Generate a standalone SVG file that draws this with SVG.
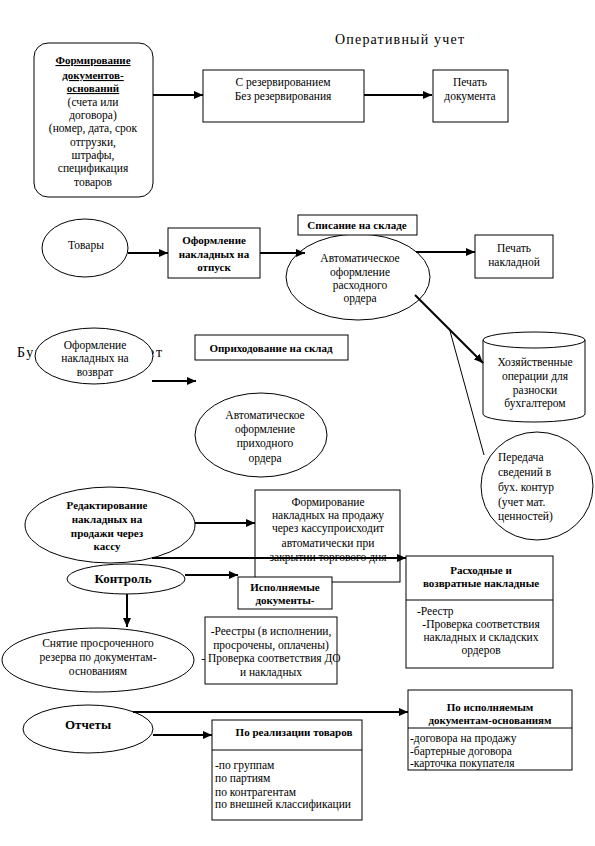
<svg xmlns="http://www.w3.org/2000/svg" width="595" height="846" viewBox="0 0 595 846" font-family="'Liberation Serif', 'DejaVu Serif', serif">
<defs>
<marker id="ah" markerUnits="userSpaceOnUse" markerWidth="10" markerHeight="8" refX="9" refY="4" orient="auto"><path d="M0,0 L9,4 L0,8 z" fill="#000"/></marker>
<style>
text{font-family:"Liberation Serif","DejaVu Serif",serif;font-size:11.5px;fill:#000}
.c{text-anchor:middle}
.b{font-weight:bold;font-size:11px}
.u{text-decoration:underline}
.big{font-size:14px}
.k{font-size:13px;font-weight:bold}
.box{fill:#fff;stroke:#000;stroke-width:1}
.ln{fill:none;stroke:#000;stroke-width:1}
.arr{fill:none;stroke:#000;stroke-width:2;marker-end:url(#ah)}
</style>
</defs>
<rect width="595" height="846" fill="#fff"/>

<text id="title-op" class="big" x="335" y="44" textLength="129">Оперативный учет</text>
<text id="title-bu" class="big" x="17" y="357" textLength="145">Бухгалтерский учет</text>

<g id="n-docs">
<rect class="box" x="34" y="43" width="119" height="154" rx="14"/>
<text class="c b u" x="93" y="64">Формирование</text>
<text class="c b u" x="93" y="79">документов-</text>
<text class="c b u" x="93" y="92">оснований</text>
<text class="c" x="93" y="106">(счета или</text>
<text class="c" x="93" y="119">договора)</text>
<text class="c" x="93" y="132">(номер, дата, срок</text>
<text class="c" x="93" y="146">отгрузки,</text>
<text class="c" x="93" y="159">штрафы,</text>
<text class="c" x="93" y="172">спецификация</text>
<text class="c" x="93" y="186">товаров</text>
</g>
<g id="n-reserve">
<rect class="box" x="203" y="70" width="161" height="52"/>
<text class="c" x="283" y="86">С резервированием</text>
<text class="c" x="283" y="100">Без резервирования</text>
</g>
<g id="n-printdoc">
<rect class="box" x="433" y="70" width="75" height="52"/>
<text class="c" x="470" y="86">Печать</text>
<text class="c" x="470" y="100">документа</text>
</g>

<g id="n-goods">
<ellipse class="box" cx="85" cy="248" rx="43" ry="29"/>
<text class="c" x="86" y="249">Товары</text>
</g>
<g id="n-issue">
<rect class="box" x="168" y="228" width="92" height="50"/>
<text class="c b" x="214" y="244">Оформление</text>
<text class="c b" x="214" y="258">накладных на</text>
<text class="c b" x="214" y="271">отпуск</text>
</g>
<g id="n-outorder">
<ellipse class="box" cx="358" cy="277" rx="72" ry="43"/>
<text class="c" x="360" y="262">Автоматическое</text>
<text class="c" x="360" y="276">оформление</text>
<text class="c" x="360" y="289">расходного</text>
<text class="c" x="360" y="302">ордера</text>
</g>
<g id="n-writeoff">
<rect class="box" x="298" y="215" width="119" height="20"/>
<text class="c b" x="357" y="229">Списание на складе</text>
</g>
<g id="n-printinv">
<rect class="box" x="475" y="235" width="78" height="43"/>
<text class="c" x="514" y="252">Печать</text>
<text class="c" x="514" y="266">накладной</text>
</g>
<g id="n-ops">
<path class="box" d="M483,340 A51,8 0 0,1 585,340 L585,414 A51,8 0 0,1 483,414 Z"/>
<path class="ln" d="M483,340 A51,8 0 0,0 585,340"/>
<text class="c" x="535" y="366">Хозяйственные</text>
<text class="c" x="535" y="380">операции для</text>
<text class="c" x="535" y="394">разноски</text>
<text class="c" x="535" y="407">бухгалтером</text>
</g>
<g id="n-transfer">
<ellipse class="box" cx="537" cy="486" rx="56" ry="54"/>
<text x="498" y="461">Передача</text>
<text x="498" y="476">сведений в</text>
<text x="498" y="491">бух. контур</text>
<text x="498" y="506">(учет мат.</text>
<text x="498" y="520">ценностей)</text>
</g>

<g id="n-return">
<ellipse class="box" cx="94" cy="356" rx="59" ry="28"/>
<text class="c" x="95" y="349">Оформление</text>
<text class="c" x="95" y="362">накладных на</text>
<text class="c" x="95" y="376">возврат</text>
</g>
<g id="n-receive">
<rect class="box" x="195" y="335" width="153" height="25"/>
<text class="c b" x="271" y="352">Оприходование на склад</text>
</g>
<g id="n-inorder">
<ellipse class="box" cx="261" cy="435" rx="66" ry="42"/>
<text class="c" x="265" y="419">Автоматическое</text>
<text class="c" x="265" y="433">оформление</text>
<text class="c" x="265" y="447">приходного</text>
<text class="c" x="265" y="462">ордера</text>
</g>

<g id="n-edit">
<ellipse class="box" cx="110" cy="525" rx="85" ry="38"/>
<text class="c b" x="107" y="509">Редактирование</text>
<text class="c b" x="107" y="523">накладных на</text>
<text class="c b" x="107" y="537">продажи через</text>
<text class="c b" x="107" y="550">кассу</text>
</g>
<g id="n-cash">
<rect class="box" x="255" y="490" width="145" height="92"/>
<text class="c" x="328" y="506">Формирование</text>
<text class="c" x="328" y="519">накладных на продажу</text>
<text class="c" x="328" y="532">через кассупроисходит</text>
<text class="c" x="328" y="547">автоматически при</text>
<text class="c" x="328" y="561">закрытии торгового дня</text>
</g>
<g id="n-control">
<ellipse class="box" cx="126" cy="579" rx="59" ry="15"/>
<text class="c k" x="123" y="583">Контроль</text>
</g>
<g id="n-execdocs">
<rect class="box" x="238" y="577" width="94" height="32"/>
<text class="c b" x="285" y="591">Исполняемые</text>
<text class="c b" x="285" y="604">документы-</text>
</g>
<g id="n-registers">
<rect class="box" x="205" y="617" width="132" height="67"/>
<text class="c" x="271" y="635">-Реестры (в исполнении,</text>
<text class="c" x="271" y="649">просрочены, оплачены)</text>
<text class="c" x="271" y="662">- Проверка соответствия ДО</text>
<text class="c" x="271" y="676">и накладных</text>
</g>
<g id="n-expired">
<ellipse class="box" cx="98" cy="660" rx="96" ry="32"/>
<text class="c" x="98" y="647">Снятие просроченного</text>
<text class="c" x="98" y="661">резерва по документам-</text>
<text class="c" x="98" y="675">основаниям</text>
</g>
<g id="n-invoices">
<rect class="box" x="406" y="556" width="147" height="112"/>
<line class="ln" x1="406" y1="600" x2="553" y2="600"/>
<text class="c b" x="481" y="574">Расходные и</text>
<text class="c b" x="481" y="587">возвратные накладные</text>
<text x="417" y="615">-Реестр</text>
<text class="c" x="481" y="628">-Проверка соответствия</text>
<text class="c" x="481" y="641">накладных и складских</text>
<text class="c" x="481" y="654">ордеров</text>
</g>

<g id="n-reports">
<ellipse class="box" cx="88" cy="729" rx="65" ry="24"/>
<text class="c k" x="88" y="729">Отчеты</text>
</g>
<g id="n-bysales">
<rect class="box" x="212" y="720" width="150" height="100"/>
<line class="ln" x1="212" y1="750" x2="362" y2="750"/>
<text class="c b" x="294" y="736">По реализации товаров</text>
<text x="215" y="769">-по группам</text>
<text x="215" y="782">по партиям</text>
<text x="215" y="796">по контрагентам</text>
<text x="215" y="808">по внешней классификации</text>
</g>
<g id="n-byexec">
<rect class="box" x="408" y="690" width="164" height="80"/>
<line class="ln" x1="408" y1="728" x2="572" y2="728"/>
<text class="c b" x="490" y="711">По исполняемым</text>
<text class="c b" x="490" y="724">документам-основаниям</text>
<text x="410" y="742">-договора на продажу</text>
<text x="410" y="755">-бартерные договора</text>
<text x="410" y="767">-карточка покупателя</text>
</g>

<g id="connectors">
<line class="arr" x1="153" y1="95" x2="203" y2="95"/>
<line class="arr" x1="364" y1="95" x2="432" y2="95"/>
<line class="arr" x1="128" y1="253" x2="168" y2="253"/>
<line class="arr" x1="260" y1="253" x2="305" y2="253"/>
<line class="arr" x1="416" y1="252" x2="475" y2="252"/>
<line class="arr" x1="415" y1="295" x2="483" y2="363"/>
<line class="ln" x1="450" y1="331" x2="484" y2="455"/>
<line class="arr" x1="152" y1="381" x2="196" y2="381"/>
<line class="arr" x1="195" y1="523" x2="255" y2="523"/>
<line class="arr" x1="152" y1="558" x2="406" y2="558"/>
<line class="arr" x1="185" y1="575" x2="238" y2="575"/>
<line class="arr" x1="127" y1="594" x2="127" y2="627"/>
<line class="arr" x1="133" y1="712" x2="408" y2="712"/>
<line class="arr" x1="153" y1="735" x2="212" y2="735"/>
</g>
</svg>
